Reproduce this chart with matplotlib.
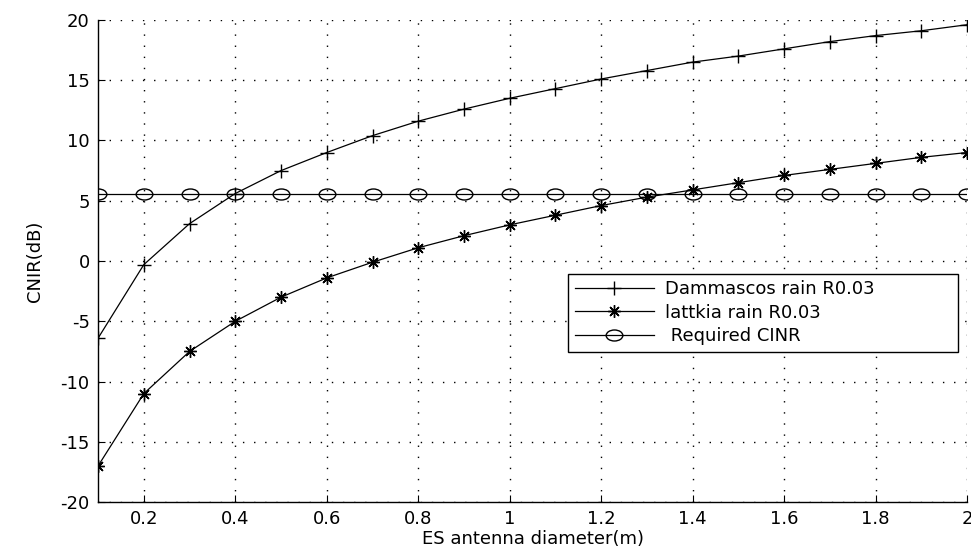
import matplotlib

matplotlib.use("Agg")

import matplotlib.pyplot as plt
from matplotlib.path import Path
from matplotlib.transforms import Affine2D

# ES antenna diameter (m)
diameter = [0.1, 0.2, 0.3, 0.4, 0.5, 0.6, 0.7, 0.8, 0.9, 1.0,
            1.1, 1.2, 1.3, 1.4, 1.5, 1.6, 1.7, 1.8, 1.9, 2.0]

# CNIR (dB)
dammascos = [-6.4, -0.3, 3.1, 5.6, 7.5, 9.0, 10.4, 11.6, 12.6, 13.5,
             14.3, 15.1, 15.8, 16.5, 17.0, 17.6, 18.2, 18.7, 19.1, 19.6]
lattkia = [-17.0, -11.0, -7.5, -5.0, -3.0, -1.4, -0.1, 1.1, 2.1, 3.0,
           3.8, 4.6, 5.3, 5.9, 6.5, 7.1, 7.6, 8.1, 8.6, 9.0]
required = [5.6] * len(diameter)

labels = ["Dammascos rain R0.03", "lattkia rain R0.03", " Required CINR"]

xticks = [0.2, 0.4, 0.6, 0.8, 1.0, 1.2, 1.4, 1.6, 1.8, 2.0]
xticklabels = ["0.2", "0.4", "0.6", "0.8", "1", "1.2", "1.4", "1.6", "1.8", "2"]
yticks = [-20, -15, -10, -5, 0, 5, 10, 15, 20]

plt.rcParams.update(
    {
        "font.family": ["DejaVu Sans"],
        "font.size": 13,
        "axes.linewidth": 1.0,
        "axes.unicode_minus": False,
    }
)

# the source picture is stretched sideways, so circles look like ellipses
ellipse = Path.unit_circle().transformed(Affine2D().scale(1.0, 0.66))
asterisk = (8, 2, 0)  # matlab style '*': plus and cross on top of each other

fig = plt.figure(figsize=(9.71, 5.53), dpi=100)
ax = fig.add_axes([0.101, 0.092, 0.895, 0.872])

ax.plot(diameter, dammascos, color="black", lw=0.9, marker="+",
        ms=10, mew=1.0, label=labels[0])
ax.plot(diameter, lattkia, color="black", lw=0.9, marker=asterisk,
        ms=9, mew=1.0, label=labels[1])
ax.plot(diameter, required, color="black", lw=0.9, marker=ellipse,
        ms=12, mfc="none", mew=1.0, label=labels[2])

ax.set_xlim(0.1, 2.0)
ax.set_ylim(-20, 20)
ax.set_xticks(xticks)
ax.set_xticklabels(xticklabels)
ax.set_yticks(yticks)
ax.grid(True, color="black", linestyle=(0, (1, 7)), linewidth=1.0)
ax.tick_params(direction="in", length=5, color="black", pad=6)
ax.spines["top"].set_visible(False)
ax.spines["right"].set_visible(False)

ax.set_xlabel("ES antenna diameter(m)", labelpad=1)
ax.set_ylabel("CNIR(dB)", labelpad=12)

leg = ax.legend(loc="upper left", bbox_to_anchor=(0.541, 0.297, 0.449, 0.176),
                mode="expand", frameon=True, fancybox=False, numpoints=1,
                handlelength=4.4, borderpad=0.35, labelspacing=0.3,
                handletextpad=0.6, borderaxespad=0)
leg.get_frame().set_edgecolor("black")
leg.get_frame().set_linewidth(1.0)
leg.get_frame().set_alpha(1.0)

fig.savefig("out.png", dpi=100)
plt.close(fig)
